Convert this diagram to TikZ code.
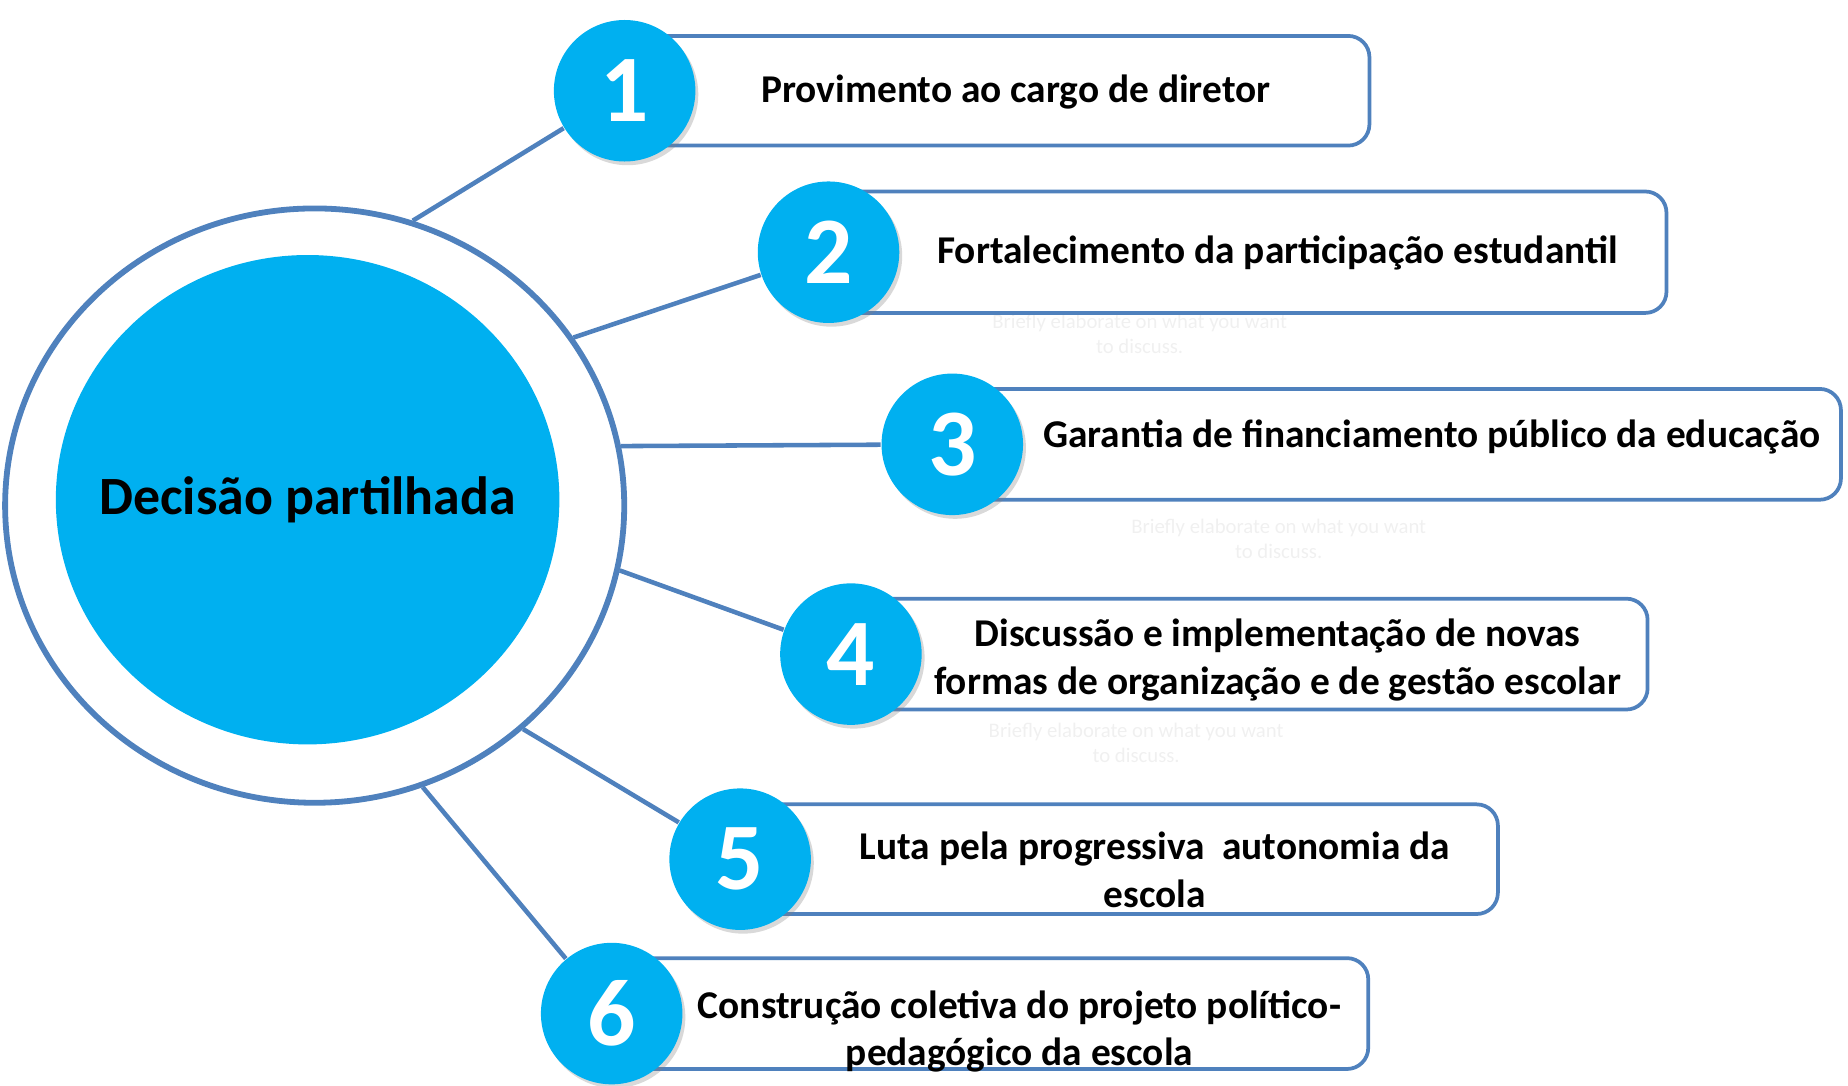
\documentclass[tikz,border=0pt]{standalone}
\usepackage{fontspec}
\setmainfont{Carlito}
\usetikzlibrary{shapes.geometric, shadows}
\definecolor{ringblue}{HTML}{4F81BD}
\definecolor{dotcyan}{HTML}{00B0F0}
\definecolor{ghost}{HTML}{F0F0F0}
\tikzset{
  itembox/.style={draw=ringblue, line width=0.9pt, rounded corners=1.8mm,
    fill=white, anchor=west},
  numdot/.style={circle, fill=dotcyan, minimum size=1.2cm, inner sep=0pt,
    text=white, font=\fontsize{23}{23}\selectfont\bfseries,
    drop shadow={shadow xshift=0.7pt, shadow yshift=-0.9pt, opacity=0.3}},
  itemtext/.style={align=center, font=\fontsize{9.5}{11.4}\selectfont\bfseries},
  spoke/.style={draw=ringblue, line width=1.1pt},
  ghosttext/.style={text=ghost, align=center, font=\fontsize{5}{6}\selectfont},
}
% #1 number, #2/#3 dot centre, #4 box width, #5 box height, #6/#7 text centre, #8 text
\newcommand{\itemrow}[8]{%
  \node[itembox, minimum width=#4, minimum height=#5] (b#1) at (#2,#3) {};
  \node[numdot] (n#1) at (#2,#3) {#1};
  \node[itemtext] (t#1) at (#6,#7) {#8};}

\begin{document}
\begin{tikzpicture}[x=0.01cm, y=-0.01cm]
  \useasboundingbox (0,0) rectangle (1568,921);
  % centre
  \node[ellipse, draw=ringblue, line width=1.4pt, minimum width=5.25cm,
        minimum height=5.04cm, inner sep=0pt] (dec) at (267,429) {};
  \node[ellipse, fill=dotcyan, minimum width=4.27cm, minimum height=4.15cm,
        inner sep=0pt] (core) at (261,424) {};
  \node[font=\fontsize{13}{13}\selectfont\bfseries] (title) at (core) {Decisão partilhada};
  % leftover placeholder text
  \node[ghosttext] (g2) at (967,283) {Briefly elaborate on what you want\\to discuss.};
  \node[ghosttext] (g3) at (1085,457) {Briefly elaborate on what you want\\to discuss.};
  \node[ghosttext] (g4) at (964,630) {Briefly elaborate on what you want\\to discuss.};
  % items
  \itemrow{1}{530}{77}{6.30cm}{0.93cm}{862}{78}{Provimento ao cargo de diretor}
  \itemrow{2}{703}{214}{7.09cm}{1.03cm}{1084}{215}{Fortalecimento da participação estudantil}
  \itemrow{3}{808}{377}{7.52cm}{0.94cm}{1215}{371}{Garantia de financiamento público da educação}
  \itemrow{4}{722}{555}{6.74cm}{0.94cm}{1084}{560}{Discussão e implementação de novas\\formas de organização e de gestão escolar}
  \itemrow{5}{628}{729}{6.41cm}{0.93cm}{980}{738}{Luta pela progressiva\ \ autonomia da\\escola}
  \itemrow{6}{519}{860}{6.40cm}{0.94cm}{865}{875}{Construção coletiva do projeto político-\\pedagógico da escola}
  % spokes
  \draw[spoke] (dec.71.7) -- (n1);
  \draw[spoke] (dec.33.4) -- (n2);
  \draw[spoke] (dec.11.5) -- (n3);
  \draw[spoke] (dec.-12.8) -- (n4);
  \draw[spoke] (dec.-47) -- (n5);
  \draw[spoke] (dec.-69.5) -- (n6);
\end{tikzpicture}
\end{document}
